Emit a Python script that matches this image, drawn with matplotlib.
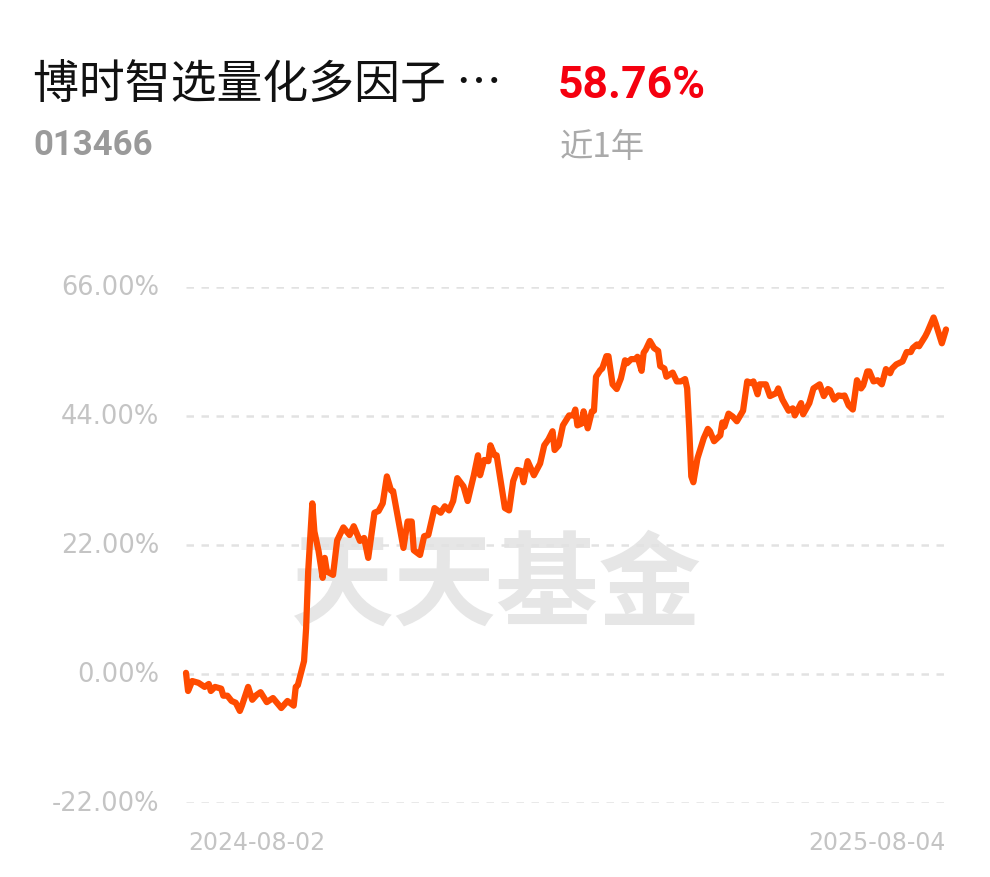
import datetime as dt
import matplotlib
matplotlib.use("Agg")
import matplotlib.pyplot as plt

plt.rcParams['font.family'] = ['Noto Sans CJK SC', 'DejaVu Sans']

# fund info
fund_name = "博时智选量化多因子 …"
fund_code = "013466"
period_label = "近1年"
period_return = "58.76%"
start_date = dt.date(2024, 8, 2)
end_date = dt.date(2025, 8, 4)

# cumulative return (%), x = days since start
day_offset = [0, 1, 3, 6, 9, 11, 12, 14, 17, 18, 20, 22, 24, 26, 27, 30, 32, 34, 36, 39,
              42, 46, 49, 52, 53, 54, 57, 58, 59, 61, 62, 64, 66, 67, 68, 71, 73, 76, 79, 81,
              84, 86, 88, 91, 93, 95, 97, 99, 100, 105, 107, 109, 110, 113, 115, 117, 120, 123, 125, 127,
              129, 131, 134, 136, 139, 141, 142, 144, 146, 147, 149, 150, 154, 156, 158, 160, 162, 163, 165, 168,
              171, 173, 175, 177, 178, 180, 182, 185, 187, 188, 189, 191, 192, 194, 196, 197, 198, 200, 201, 203,
              204, 206, 208, 210, 212, 213, 215, 217, 218, 220, 221, 222, 224, 226, 228, 229, 231, 232, 235, 237,
              239, 241, 242, 243, 244, 245, 247, 250, 252, 253, 255, 258, 259, 260, 262, 264, 266, 269, 271, 273,
              274, 276, 277, 280, 282, 285, 286, 288, 291, 293, 294, 297, 298, 301, 303, 306, 308, 310, 311, 313,
              315, 317, 318, 320, 322, 324, 326, 327, 329, 330, 332, 334, 336, 338, 340, 341, 343, 346, 348, 350,
              351, 353, 354, 357, 358, 361, 362, 365, 367]
cum_return = [0.2, -2.9, -1.2, -1.5, -2.2, -1.7, -2.9, -2.2, -2.5, -3.7, -3.7, -4.6, -4.9, -6.3, -5.4, -2.2, -4.4, -3.6, -3.1, -4.8,
              -4.1, -5.8, -4.6, -5.4, -2.2, -1.9, 2.2, 7.8, 17.5, 29.1, 24.3, 21.0, 16.4, 19.8, 17.5, 16.9, 22.8, 25.0, 23.7, 25.2,
              22.7, 23.2, 19.8, 27.5, 27.8, 29.1, 33.7, 31.3, 31.2, 21.5, 26.0, 26.0, 21.1, 20.3, 23.5, 23.7, 28.3, 27.5, 28.6, 27.9,
              29.5, 33.4, 32.0, 29.5, 33.9, 37.3, 33.9, 36.5, 36.3, 39.0, 37.3, 37.3, 28.3, 27.9, 32.9, 34.8, 34.6, 32.7, 36.3, 33.9,
              35.9, 39.0, 40.0, 41.4, 38.2, 39.0, 42.4, 44.1, 44.1, 45.1, 42.4, 42.7, 44.8, 41.9, 44.8, 44.9, 50.7, 51.8, 52.1, 54.2,
              54.2, 49.4, 48.6, 50.4, 53.5, 53.0, 53.7, 53.7, 54.1, 51.7, 54.8, 55.3, 56.8, 55.6, 55.1, 52.5, 52.1, 50.7, 51.4, 49.9,
              49.9, 50.3, 48.7, 41.9, 33.7, 32.7, 36.8, 40.2, 41.8, 41.4, 39.7, 40.7, 42.9, 42.2, 44.4, 43.9, 43.1, 44.9, 49.9, 49.6,
              49.9, 47.7, 49.4, 49.4, 47.4, 47.9, 48.7, 46.8, 44.9, 45.3, 44.1, 46.2, 44.3, 46.2, 48.7, 49.4, 47.4, 48.6, 48.4, 46.8,
              47.5, 47.4, 47.5, 45.8, 45.1, 50.1, 48.7, 49.2, 51.6, 51.6, 49.9, 50.1, 49.4, 52.0, 51.3, 52.1, 52.8, 53.3, 54.9, 54.9,
              55.6, 56.2, 55.9, 57.6, 58.3, 60.8, 59.8, 56.4, 58.76]
y_ticks = [66, 44, 22, 0, -22]

dates = [start_date + dt.timedelta(days=d) for d in day_offset]

fig = plt.figure(figsize=(9.9, 8.78), dpi=100)
ax = fig.add_axes([186 / 990, 74 / 878, 760 / 990, 516 / 878])

ax.plot(dates, cum_return, color='#ff4b00', lw=4.5, solid_joinstyle='round',
        solid_capstyle='round', clip_on=False, zorder=3)

ax.set_ylim(-22, 66)
ax.set_xlim(start_date, end_date)
for v in y_ticks:
    ax.axhline(v, color='#e2e2e2', lw=1.8, ls=(0, (3, 3)), zorder=1)
    ax.text(-0.035, v, f"{v:.2f}%", transform=ax.get_yaxis_transform(),
            ha='right', va='center', fontsize=18.5, color='#c4c4c4',
            family=['DejaVu Sans'])

ax.set_xticks([])
ax.set_yticks([])
for s in ax.spines.values():
    s.set_visible(False)

# watermark
ax.text(0.409, 0.42, "天天基金", transform=ax.transAxes, ha='center', va='center',
        fontsize=74, fontweight='bold', color='#e6e6e6', zorder=0)

# date labels
fig.text(188 / 990, 1 - 843 / 878, start_date.strftime("%Y-%m-%d"), ha='left', va='center',
         fontsize=17, color='#c4c4c4', family=['DejaVu Sans'])
fig.text(946 / 990, 1 - 843 / 878, end_date.strftime("%Y-%m-%d"), ha='right', va='center',
         fontsize=17, color='#c4c4c4', family=['DejaVu Sans'])

# header
fig.text(33 / 990, 1 - 86 / 878, fund_name, ha='left', va='center', fontsize=33, color='#111111')
fig.text(558 / 990, 1 - 86 / 878, period_return, ha='left', va='center', fontsize=32,
         fontweight='bold', color='#f5000f', family=['Roboto', 'DejaVu Sans'])
fig.text(33 / 990, 1 - 146 / 878, fund_code, ha='left', va='center', fontsize=25,
         fontweight='bold', color='#9a9a9a', family=['Roboto', 'DejaVu Sans'])
fig.text(560 / 990, 1 - 148 / 878, period_label, ha='left', va='center', fontsize=24, color='#aaaaaa')

fig.savefig("out.png", dpi=100, facecolor='white')
